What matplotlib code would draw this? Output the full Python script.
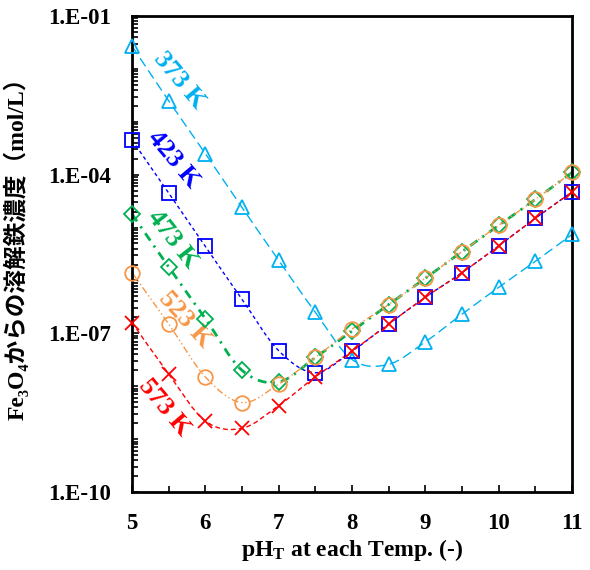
import matplotlib.pyplot as plt
import matplotlib.ticker as ticker
import numpy as np
from matplotlib.path import Path
from matplotlib.patches import PathPatch

plt.rcParams['font.family'] = ['Liberation Serif', 'DejaVu Serif', 'Noto Sans CJK JP']
plt.rcParams['font.weight'] = 'bold'
plt.rcParams['mathtext.fontset'] = 'custom'
plt.rcParams['mathtext.rm'] = 'Liberation Serif'
plt.rcParams['mathtext.bf'] = 'Liberation Serif:bold'

# pH at each temperature
ph = [5.0, 5.5, 6.0, 6.5, 7.0, 7.5, 8.0, 8.5, 9.0, 9.5, 10.0, 10.5, 11.0]

# dissolved iron from Fe3O4 (mol/L)
fe_373 = [2.7e-2, 2.5e-3, 2.5e-4, 2.4e-5, 2.4e-6, 2.5e-7, 3.2e-8,
          2.6e-8, 6.9e-8, 2.3e-7, 7.4e-7, 2.3e-6, 7.4e-6]
fe_423 = [4.5e-4, 4.5e-5, 4.4e-6, 4.4e-7, 4.7e-8, 1.8e-8, 4.6e-8,
          1.5e-7, 4.8e-7, 1.4e-6, 4.5e-6, 1.5e-5, 4.7e-5]
fe_473 = [1.8e-5, 1.8e-6, 1.9e-7, 2.0e-8, 1.2e-8, 3.5e-8, 1.1e-7,
          3.5e-7, 1.1e-6, 3.5e-6, 1.1e-5, 3.4e-5, 1.1e-4]
fe_523 = [1.4e-6, 1.5e-7, 1.5e-8, 4.9e-9, 1.1e-8, 3.5e-8, 1.2e-7,
          3.5e-7, 1.1e-6, 3.5e-6, 1.1e-5, 3.4e-5, 1.1e-4]
fe_573 = [1.6e-7, 1.7e-8, 2.2e-9, 1.6e-9, 4.3e-9, 1.5e-8, 4.6e-8,
          1.5e-7, 4.8e-7, 1.4e-6, 4.5e-6, 1.5e-5, 4.7e-5]

temps = ['373 K', '423 K', '473 K', '523 K', '573 K']
ytick_vals = [1e-1, 1e-4, 1e-7, 1e-10]
ytick_labels = ['1.E-01', '1.E-04', '1.E-07', '1.E-10']


def smooth_path(xs, ys):
    # Catmull-Rom -> cubic Bezier in (x, log y), like a smoothed line
    px = np.asarray(xs, float)
    py = np.log10(ys)
    n = len(px)
    verts = [(px[0], py[0])]
    codes = [Path.MOVETO]
    for i in range(n - 1):
        i0 = max(i - 1, 0)
        i3 = min(i + 2, n - 1)
        c1 = (px[i] + (px[i + 1] - px[i0]) / 6, py[i] + (py[i + 1] - py[i0]) / 6)
        c2 = (px[i + 1] - (px[i3] - px[i]) / 6, py[i + 1] - (py[i3] - py[i]) / 6)
        verts += [c1, c2, (px[i + 1], py[i + 1])]
        codes += [Path.CURVE4] * 3
    verts = [(x, 10 ** y) for x, y in verts]
    return Path(verts, codes)


fig = plt.figure(figsize=(5.9, 5.7), dpi=100)
ax = fig.add_axes([132 / 590, 1 - 492 / 570, 440 / 590, 476 / 570])
ax.set_yscale('log')
ax.set_xlim(5, 11)
ax.set_ylim(1e-10, 1e-1)

series = [
    (fe_373, '#00B0F0', '^', (0, (7, 3.5)), 1.0),
    (fe_423, '#0000FF', 's', (0, (2.6, 2.2)), 1.0),
    (fe_473, '#00B050', 'D', (0, (3.2, 2.2, 0.8, 2.2)), 2.0),
    (fe_523, '#F79646', 'o', (0, (5, 2, 1, 2, 1, 2)), 1.0),
    (fe_573, '#FF0000', 'x', (0, (3.5, 2.2)), 1.0),
]
msize = {'^': 10.5, 's': 9.5, 'D': 8, 'o': 10.5, 'x': 10.5}
for vals, col, mk, ls, lw in series:
    ax.add_patch(PathPatch(smooth_path(ph, vals), fill=False, edgecolor=col,
                           linestyle=ls, linewidth=lw, zorder=2))
    ax.plot(ph, vals, linestyle='none', marker=mk, ms=msize[mk], mfc='none',
            mec=col, mew=1.3, clip_on=False, zorder=4)

# temperature labels along the curves
label_pos = [(5.64, 6.0e-3, -50), (5.57, 1.9e-4, -50), (5.56, 6.0e-6, -52),
             (5.73, 1.8e-7, -48), (5.44, 4.0e-9, -50)]
for (tx, ty, rot), name, s in zip(label_pos, temps, series):
    ax.text(tx, ty, name, color=s[1], fontsize=19, fontweight='bold',
            rotation=rot, ha='center', va='center', rotation_mode='anchor')

ax.set_xticks(np.arange(5, 12, 1))
ax.xaxis.set_minor_locator(ticker.MultipleLocator(0.5))
ax.set_yticks(ytick_vals)
ax.set_yticklabels(ytick_labels)
ax.yaxis.set_minor_locator(ticker.LogLocator(base=10, subs=np.arange(1, 10), numticks=100))
ax.yaxis.set_minor_formatter(ticker.NullFormatter())

ax.tick_params(axis='both', which='both', direction='in', width=1.2,
               labelsize=16.5, top=False, right=False)
ax.tick_params(axis='both', which='major', length=5)
ax.tick_params(axis='both', which='minor', length=4)
ax.tick_params(axis='x', which='major', pad=15)
ax.tick_params(axis='y', which='major', pad=15)
for lab in ax.get_xticklabels() + ax.get_yticklabels():
    lab.set_fontweight('bold')

for sp in ax.spines.values():
    sp.set_linewidth(2)
    sp.set_zorder(3)

ax.set_xlabel(r'$\mathbf{pH_T}$ at each Temp. (-)', fontsize=17,
              fontweight='bold', labelpad=2)
ax.set_ylabel('Fe₃O₄からの溶解鉄濃度（mol/L）', fontsize=17,
              fontweight='bold')
ax.yaxis.set_label_coords(-0.236, 0.523)

fig.savefig('out.png', dpi=100)
